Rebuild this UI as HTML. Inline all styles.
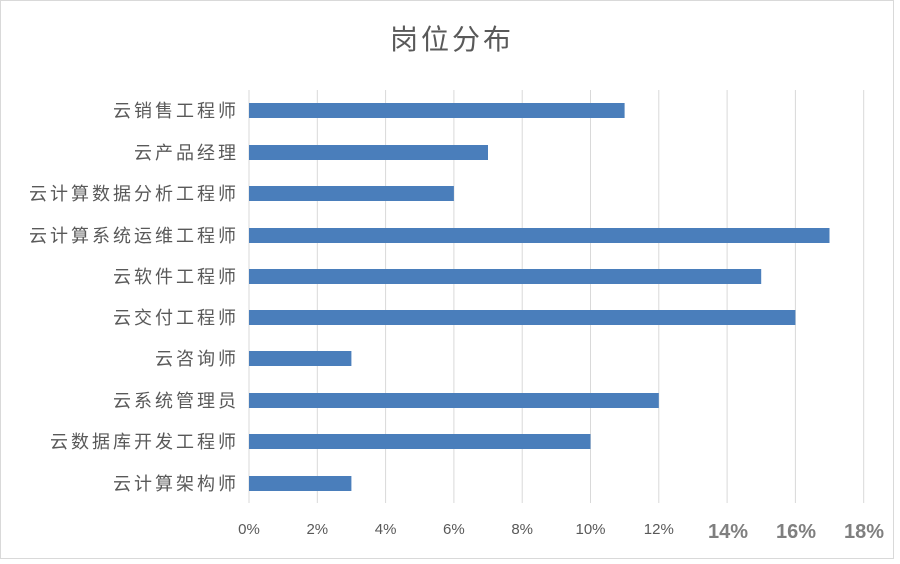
<!DOCTYPE html><html><head><meta charset="utf-8"><style>body{margin:0;background:#fff}</style></head><body>
<svg width="900" height="559" xmlns="http://www.w3.org/2000/svg" font-family="Liberation Sans, Noto Sans CJK SC, sans-serif">
<rect x="0.5" y="0.5" width="893" height="558" fill="#fff" stroke="#d9d9d9"/>
<text x="452" y="49" font-size="28" letter-spacing="3" fill="#595959" text-anchor="middle">岗位分布</text>
<g stroke="#d9d9d9" stroke-width="1">
<line x1="249" y1="90" x2="249" y2="503"/><line x1="317.3" y1="90" x2="317.3" y2="503"/><line x1="385.6" y1="90" x2="385.6" y2="503"/><line x1="453.9" y1="90" x2="453.9" y2="503"/><line x1="522.2" y1="90" x2="522.2" y2="503"/><line x1="590.5" y1="90" x2="590.5" y2="503"/><line x1="658.8" y1="90" x2="658.8" y2="503"/><line x1="727.1" y1="90" x2="727.1" y2="503"/><line x1="795.4" y1="90" x2="795.4" y2="503"/><line x1="863.7" y1="90" x2="863.7" y2="503"/>
</g>
<g fill="#4a7ebb">
<rect x="249" y="103" width="375.6" height="15"/>
<rect x="249" y="145" width="239" height="15"/>
<rect x="249" y="186" width="204.9" height="15"/>
<rect x="249" y="228" width="580.5" height="15"/>
<rect x="249" y="269" width="512.2" height="15"/>
<rect x="249" y="310" width="546.4" height="15"/>
<rect x="249" y="351" width="102.4" height="15"/>
<rect x="249" y="393" width="409.8" height="15"/>
<rect x="249" y="434" width="341.5" height="15"/>
<rect x="249" y="476" width="102.4" height="15"/>
</g>
<g font-size="18" letter-spacing="3" fill="#595959" text-anchor="end">
<text x="239" y="117">云销售工程师</text>
<text x="239" y="159">云产品经理</text>
<text x="239" y="200">云计算数据分析工程师</text>
<text x="239" y="242">云计算系统运维工程师</text>
<text x="239" y="283">云软件工程师</text>
<text x="239" y="324">云交付工程师</text>
<text x="239" y="365">云咨询师</text>
<text x="239" y="407">云系统管理员</text>
<text x="239" y="448">云数据库开发工程师</text>
<text x="239" y="490">云计算架构师</text>
</g>
<g font-size="15" fill="#595959" text-anchor="middle">
<text x="249" y="534">0%</text><text x="317.3" y="534">2%</text><text x="385.6" y="534">4%</text><text x="453.9" y="534">6%</text><text x="522.2" y="534">8%</text><text x="590.5" y="534">10%</text><text x="658.8" y="534">12%</text>
</g>
<g font-size="20" font-weight="bold" fill="#7f7f7f" text-anchor="middle">
<text x="728" y="538">14%</text><text x="796" y="538">16%</text><text x="864" y="538">18%</text>
</g>
</svg></body></html>
